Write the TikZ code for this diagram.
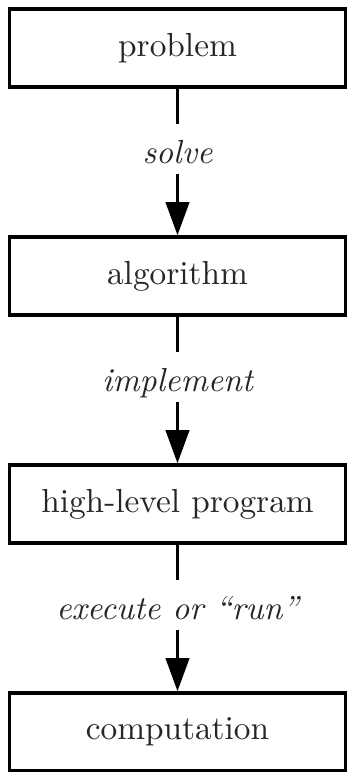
\documentclass[tikz,border=0pt]{standalone}
\usetikzlibrary{arrows.meta}
\begin{document}
\begin{tikzpicture}[x=0.3pt,y=-0.3pt,
  stage/.style={draw=black, line width=1pt, rectangle, inner sep=0pt,
    minimum width=335.5*0.3pt, minimum height=78*0.3pt,
    text=black!85, font=\fontsize{10}{12}\selectfont},
  flow/.style={line width=1pt, -{Triangle[length=10pt,width=7pt]}},
  verb/.style={fill=white, inner sep=0pt, text height=12pt, text depth=3pt,
    text=black!85, font=\fontsize{10}{12}\selectfont\itshape, pos=0.41}]
  \useasboundingbox (0,0) rectangle (347,772);

  \node[stage] (problem) at (177.5,48) {problem};
  \node[stage] (algorithm) at (177.5,276) {algorithm};
  \node[stage] (program) at (177.5,504) {high-level program};
  \node[stage] (computation) at (177.5,732) {computation};

  \draw[flow] (problem.south) -- node[verb] {solve} (algorithm.north);
  \draw[flow] (algorithm.south) -- node[verb] {implement} (program.north);
  \draw[flow] (program.south) -- node[verb] {execute or “run”} (computation.north);
\end{tikzpicture}
\end{document}
